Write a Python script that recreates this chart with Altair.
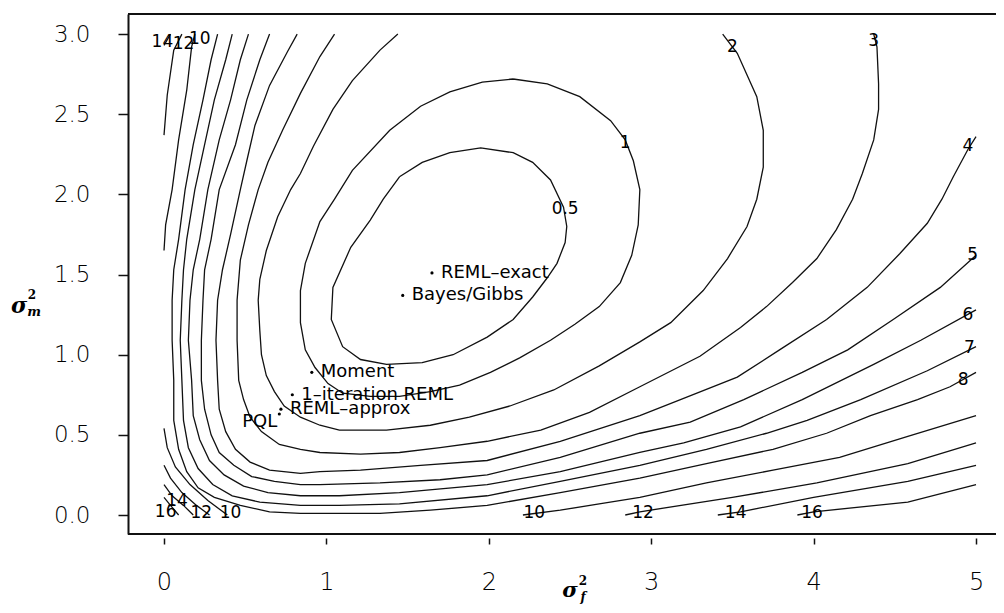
import altair as alt
import pandas as pd

# ---- contour pieces (sigma_f^2, sigma_m^2) ----
c05 = [(1.45,2.11),(1.59,2.20),(1.76,2.26),(1.95,2.29),(2.15,2.26),(2.27,2.20),(2.38,2.09),(2.46,1.92),(2.48,1.80),(2.47,1.70),(2.42,1.57),(2.36,1.48),(2.27,1.36),(2.15,1.22),(1.99,1.11),(1.78,1.00),(1.59,0.95),(1.37,0.94),(1.21,0.97),(1.10,1.05),(1.03,1.22),(1.04,1.42),(1.15,1.67),(1.27,1.84),(1.35,1.97),(1.45,2.11)]
c1 = [(2.15,2.72),(2.36,2.69),(2.56,2.61),(2.75,2.46),(2.84,2.34),(2.89,2.21),(2.93,2.03),(2.92,1.81),(2.88,1.62),(2.81,1.45),(2.68,1.30),(2.53,1.19),(2.38,1.09),(2.19,0.98),(2.01,0.89),(1.82,0.81),(1.64,0.77),(1.45,0.74),(1.27,0.74),(1.10,0.76),(1.01,0.82),(0.93,0.92),(0.87,1.03),(0.84,1.20),(0.84,1.40),(0.87,1.57),(0.96,1.83),(1.05,1.97),(1.16,2.15),(1.39,2.40),(1.58,2.55),(1.76,2.64),(1.96,2.70),(2.15,2.72)]
c2 = [(1.44,3.00),(1.33,2.90),(1.16,2.71),(1.04,2.53),(0.92,2.30),(0.84,2.13),(0.78,2.03),(0.70,1.86),(0.63,1.65),(0.59,1.47),(0.58,1.34),(0.59,1.15),(0.60,1.00),(0.63,0.87),(0.68,0.77),(0.74,0.68),(0.84,0.61),(0.96,0.56),(1.08,0.53),(1.37,0.53),(1.64,0.56),(1.88,0.61),(2.13,0.68),(2.40,0.78),(2.68,0.93),(2.93,1.08),(3.12,1.20),(3.32,1.40),(3.47,1.60),(3.59,1.80),(3.65,1.97),(3.69,2.17),(3.69,2.40),(3.65,2.61),(3.53,2.88),(3.44,3.00)]
c3 = [(1.05,3.00),(0.96,2.86),(0.84,2.63),(0.73,2.40),(0.64,2.20),(0.58,2.03),(0.52,1.81),(0.47,1.59),(0.45,1.34),(0.45,1.09),(0.46,0.84),(0.49,0.72),(0.53,0.61),(0.60,0.52),(0.71,0.44),(0.84,0.41),(0.96,0.39),(1.21,0.38),(1.45,0.39),(1.70,0.42),(1.99,0.46),(2.32,0.53),(2.62,0.64),(2.93,0.80),(3.30,0.99),(3.55,1.17),(3.71,1.30),(3.87,1.45),(4.02,1.60),(4.14,1.78),(4.24,1.97),(4.30,2.13),(4.37,2.34),(4.40,2.53),(4.40,2.69),(4.39,2.92),(4.37,3.00)]
c4 = [(0.82,3.00),(0.76,2.89),(0.65,2.68),(0.56,2.43),(0.51,2.21),(0.47,2.03),(0.41,1.75),(0.36,1.53),(0.33,1.34),(0.32,1.09),(0.33,0.84),(0.34,0.66),(0.38,0.52),(0.44,0.41),(0.53,0.33),(0.65,0.28),(0.84,0.26),(0.96,0.27),(1.21,0.28),(1.58,0.31),(1.99,0.34),(2.44,0.46),(2.93,0.62),(3.18,0.72),(3.53,0.86),(3.79,1.03),(4.08,1.22),(4.33,1.42),(4.53,1.63),(4.70,1.82),(4.79,1.97),(4.86,2.11),(4.95,2.28),(5.00,2.36)]
c5 = [(0.65,3.00),(0.59,2.84),(0.51,2.59),(0.44,2.31),(0.34,2.03),(0.29,1.72),(0.25,1.53),(0.24,1.34),(0.23,1.09),(0.23,0.84),(0.25,0.66),(0.29,0.50),(0.34,0.39),(0.43,0.31),(0.54,0.24),(0.68,0.21),(0.84,0.19),(0.96,0.19),(1.33,0.20),(1.70,0.22),(1.99,0.25),(2.44,0.36),(2.93,0.51),(3.24,0.58),(3.57,0.72),(3.93,0.89),(4.21,1.03),(4.49,1.22),(4.78,1.42),(5.00,1.62)]
c6 = [(0.52,3.00),(0.47,2.84),(0.41,2.59),(0.34,2.34),(0.27,2.03),(0.22,1.72),(0.18,1.53),(0.16,1.34),(0.15,1.09),(0.17,0.84),(0.18,0.62),(0.22,0.47),(0.28,0.34),(0.37,0.25),(0.49,0.18),(0.64,0.14),(0.84,0.12),(1.08,0.12),(1.45,0.14),(1.99,0.19),(2.44,0.27),(2.93,0.39),(3.20,0.45),(3.55,0.55),(3.93,0.72),(4.37,0.94),(4.66,1.09),(5.00,1.28)]
c7 = [(0.42,3.00),(0.38,2.84),(0.31,2.59),(0.25,2.31),(0.19,2.03),(0.14,1.72),(0.12,1.53),(0.11,1.34),(0.10,1.09),(0.11,0.84),(0.12,0.59),(0.15,0.42),(0.21,0.29),(0.30,0.19),(0.42,0.12),(0.59,0.08),(0.84,0.06),(1.08,0.06),(1.45,0.07),(1.99,0.12),(2.44,0.21),(2.93,0.31),(3.34,0.41),(3.71,0.51),(3.96,0.59),(4.29,0.72),(4.70,0.90),(5.00,1.05)]
c8 = [(0.33,3.00),(0.29,2.84),(0.24,2.59),(0.18,2.31),(0.13,2.03),(0.09,1.72),(0.06,1.53),(0.05,1.34),(0.05,1.09),(0.06,0.84),(0.06,0.59),(0.09,0.41),(0.14,0.27),(0.21,0.17),(0.31,0.11),(0.47,0.06),(0.65,0.02),(0.84,0.01),(1.04,0.01),(1.33,0.01),(1.64,0.03),(1.99,0.06),(2.44,0.14),(2.93,0.23),(3.34,0.32),(3.75,0.41),(4.08,0.51),(4.35,0.62),(4.64,0.72),(4.84,0.80),(5.00,0.89)]
c10a = [(0.19,3.00),(0.17,2.92),(0.14,2.65),(0.09,2.34),(0.05,2.03),(0.01,1.81),(0.00,1.65)]
c12a = [(0.11,3.00),(0.06,2.90),(0.02,2.62),(0.00,2.37)]
c14a = [(0.04,3.00),(0.00,2.93)]
c10b = [(0.00,0.54),(0.02,0.42),(0.07,0.30),(0.16,0.19),(0.27,0.09),(0.39,0.00)]
c12b = [(0.00,0.31),(0.04,0.23),(0.11,0.14),(0.20,0.06),(0.28,0.00)]
c14b = [(0.00,0.19),(0.05,0.12),(0.12,0.06),(0.18,0.00)]
c16b = [(0.00,0.11),(0.04,0.06),(0.09,0.00)]
c10c = [(2.21,0.00),(2.44,0.03),(2.68,0.07),(2.93,0.11),(3.34,0.20),(3.75,0.28),(4.16,0.36),(4.58,0.49),(5.00,0.62)]
c12c = [(2.84,0.00),(2.93,0.02),(3.50,0.11),(4.02,0.20),(4.58,0.32),(5.00,0.45)]
c14c = [(3.41,0.00),(3.55,0.02),(4.00,0.11),(4.58,0.21),(5.00,0.31)]
c16c = [(3.90,0.00),(4.00,0.02),(4.58,0.08),(5.00,0.19)]

pieces = {"0.5": c05, "1": c1, "2": c2, "3": c3, "4": c4, "5": c5, "6": c6,
          "7": c7, "8": c8, "10a": c10a, "12a": c12a, "14a": c14a,
          "10b": c10b, "12b": c12b, "14b": c14b, "16b": c16b,
          "10c": c10c, "12c": c12c, "14c": c14c, "16c": c16c}

# ---- contour labels ----
lab_text = ["0.5", "1", "2", "3", "4", "5", "6", "7", "8", "14", "12", "10",
            "16", "14", "12", "10", "10", "12", "14", "16"]
lab_x = [2.47, 2.84, 3.50, 4.37, 4.95, 4.98, 4.95, 4.96, 4.92, -0.01, 0.12, 0.22,
         0.01, 0.08, 0.23, 0.41, 2.28, 2.95, 3.52, 3.99]
lab_y = [1.91, 2.32, 2.92, 2.96, 2.30, 1.62, 1.25, 1.04, 0.84, 2.95, 2.94, 2.97,
         0.02, 0.09, 0.01, 0.01, 0.01, 0.01, 0.01, 0.01]

# ---- estimates ----
pt_name = ["REML\u2013exact", "Bayes/Gibbs", "Moment", "1\u2013iteration REML", "REML\u2013approx", "PQL"]
pt_x = [1.65, 1.47, 0.91, 0.79, 0.72, 0.71]
pt_y = [1.51, 1.37, 0.89, 0.75, 0.66, 0.63]

x_ticks = [0, 1, 2, 3, 4, 5]
y_ticks = [0.0, 0.5, 1.0, 1.5, 2.0, 2.5, 3.0]

W, H = 868, 520
FONT = "DejaVu Sans"

rows = []
for name, pts in pieces.items():
    for i, (px, py) in enumerate(pts):
        rows.append({"piece": name, "i": i, "x": px, "y": py})
lines_df = pd.DataFrame(rows)
labels_df = pd.DataFrame({"t": lab_text, "x": lab_x, "y": lab_y})
pts_df = pd.DataFrame({"name": pt_name, "x": pt_x, "y": pt_y})

xs = alt.Scale(domain=[-0.2217, 5.1230], nice=False, zero=False)
ys = alt.Scale(domain=[-0.1185, 3.1254], nice=False, zero=False)
xax = alt.Axis(values=x_ticks, format="d", tickSize=6, offset=4, domain=False, grid=False,
               labelPadding=26, labelFontSize=24, labelFontWeight=300, title=None)
yax = alt.Axis(values=y_ticks, format=".1f", tickSize=10, domain=True, grid=False,
               labelPadding=28, labelFontSize=23, labelFontWeight=300, title=None)
X = alt.X("x:Q", scale=xs, axis=xax)
Y = alt.Y("y:Q", scale=ys, axis=yax)

contours = alt.Chart(lines_df).mark_line(color="#111", strokeWidth=1.3).encode(
    x=X, y=Y, detail="piece:N", order="i:Q")

clabels = alt.Chart(labels_df).mark_text(font=FONT, fontSize=17, color="#000",
                                         baseline="middle", align="center").encode(
    x=X, y=Y, text="t:N")

base_pts = alt.Chart(pts_df)
dots = base_pts.mark_point(filled=True, size=10, color="#000", shape="circle", opacity=1).encode(
    x=X, y=Y)
ptext = base_pts.transform_filter(alt.datum.name != "PQL").mark_text(
    font=FONT, fontSize=18, color="#000", align="left", baseline="middle",
    dx=9).encode(x=X, y=Y, text="name:N")
pqltext = base_pts.transform_filter(alt.datum.name == "PQL").mark_text(
    font=FONT, fontSize=18, color="#000", align="right", baseline="middle",
    dx=-2, dy=8).encode(x=X, y=Y, text="name:N")

one = pd.DataFrame({"k": [0]})
top_line = alt.Chart(one).mark_rule(color="#111", strokeWidth=2).encode(
    x=alt.value(0), x2=alt.value(W), y=alt.value(0))
bottom_line = alt.Chart(one).mark_rule(color="#111", strokeWidth=2).encode(
    x=alt.value(0), x2=alt.value(W), y=alt.value(H))

def title_txt(t, x, y, size, style="italic", weight="bold"):
    return alt.Chart(one).mark_text(text=t, font="DejaVu Serif", fontSize=size, fontStyle=style,
                                    fontWeight=weight, color="#000", align="center",
                                    baseline="middle").encode(x=alt.value(x), y=alt.value(y))

ytitle = [title_txt("\u03c3", -109, 292, 22), title_txt("2", -96, 281, 12, style="normal"),
          title_txt("m", -94, 298, 13)]
xtitle = [title_txt("\u03c3", 442, 577, 21), title_txt("2", 455, 567, 12, style="normal"),
          title_txt("f", 455, 583, 12)]

chart = alt.layer(contours, clabels, dots, ptext, pqltext, top_line, bottom_line,
                  *ytitle, *xtitle).properties(
    width=W, height=H,
    autosize=alt.AutoSizeParams(type="none"),
    padding={"left": 120, "top": 6, "right": 0, "bottom": 71},
).configure_view(stroke="transparent").configure_axis(
    labelFont=FONT, labelColor="#000", tickColor="#111", domainColor="#111",
    tickWidth=1.5, domainWidth=2,
)

chart.save("out.html", embed_options={"renderer": "svg", "actions": False})
